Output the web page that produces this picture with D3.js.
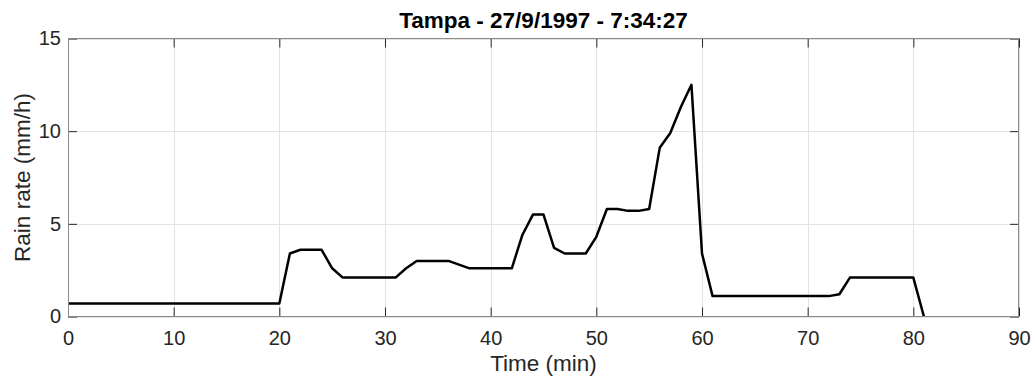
<!DOCTYPE html>
<html>
<head>
<meta charset="utf-8">
<script src="https://cdn.jsdelivr.net/npm/d3@7"></script>
<style>
  html, body { margin: 0; padding: 0; background: #fff; }
  svg { display: block; font-family: "Liberation Sans", Arial, Helvetica, sans-serif; }
</style>
</head>
<body>
<svg id="chart" width="1034" height="376"></svg>
<script>
// Rain gauge trace: breakpoints of the rain rate (mm/h) against elapsed time (min)
const timeMin = [0, 20, 21, 22, 24, 25, 26, 31, 32, 33, 36, 38, 42, 43, 44, 45, 46, 47, 49, 50, 51, 52, 53, 54, 55, 56, 57, 58, 59, 60, 61, 72, 73, 74, 80, 81];
const rainRate = [0.7, 0.7, 3.4, 3.6, 3.6, 2.6, 2.1, 2.1, 2.6, 3.0, 3.0, 2.6, 2.6, 4.4, 5.5, 5.5, 3.7, 3.4, 3.4, 4.3, 5.8, 5.8, 5.7, 5.7, 5.8, 9.1, 9.9, 11.3, 12.5, 3.4, 1.1, 1.1, 1.2, 2.1, 2.1, 0];

const xTicks = [0, 10, 20, 30, 40, 50, 60, 70, 80, 90];
const yTicks = [0, 5, 10, 15];

const titleText = "Tampa - 27/9/1997 - 7:34:27";
const xLabel = "Time (min)";
const yLabel = "Rain rate (mm/h)";

const svg = d3.select("#chart");
const plotL = 68, plotR = 1019, plotT = 38.5, plotB = 316.5;

const x = d3.scaleLinear().domain([0, 90]).range([plotL, plotR]);
const y = d3.scaleLinear().domain([0, 15]).range([plotB, plotT]);

// grid
const grid = svg.append("g").attr("stroke", "#e3e3e3").attr("stroke-width", 1);
xTicks.forEach(t => {
  const px = Math.round(x(t)) + 0.5;
  grid.append("line").attr("x1", px).attr("x2", px).attr("y1", plotT).attr("y2", plotB);
});
yTicks.forEach(t => {
  const py = Math.round(y(t)) + 0.5;
  grid.append("line").attr("x1", plotL).attr("x2", plotR).attr("y1", py).attr("y2", py);
});

// axes with inward ticks (bottom/left labelled, top/right mirrored)
const tickLen = 9;
const fmt = d3.format("d");
const axB = svg.append("g").attr("transform", `translate(0,${plotB})`)
  .call(d3.axisBottom(x).tickValues(xTicks).tickFormat(fmt).tickSizeInner(-tickLen).tickSizeOuter(0).tickPadding(14));
const axT = svg.append("g").attr("transform", `translate(0,${plotT})`)
  .call(d3.axisTop(x).tickValues(xTicks).tickFormat("").tickSizeInner(-tickLen).tickSizeOuter(0));
const axL = svg.append("g").attr("transform", `translate(${plotL},0)`)
  .call(d3.axisLeft(y).tickValues(yTicks).tickFormat(fmt).tickSizeInner(-tickLen).tickSizeOuter(0).tickPadding(7));
const axR = svg.append("g").attr("transform", `translate(${plotR},0)`)
  .call(d3.axisRight(y).tickValues(yTicks).tickFormat("").tickSizeInner(-tickLen).tickSizeOuter(0));

[axB, axT, axL, axR].forEach(g => {
  g.select(".domain").remove();
  g.selectAll(".tick line").attr("stroke", "#262626");
  g.selectAll(".tick text").attr("fill", "#262626").style("font-size", "20px");
});

// data line
const line = d3.line().x((d, i) => x(timeMin[i])).y(d => y(d));
svg.append("path")
  .datum(rainRate)
  .attr("fill", "none")
  .attr("stroke", "#000")
  .attr("stroke-width", 2.5)
  .attr("stroke-linejoin", "round")
  .attr("d", line);

// frame
svg.append("rect")
  .attr("x", plotL + 0.5).attr("y", plotT)
  .attr("width", plotR - plotL - 1).attr("height", plotB - plotT)
  .attr("fill", "none").attr("stroke", "#8a8a8a").attr("stroke-width", 1);

// labels
svg.append("text")
  .attr("x", (plotL + plotR) / 2).attr("y", 28)
  .attr("text-anchor", "middle")
  .style("font-size", "22.5px").style("font-weight", "bold")
  .attr("fill", "#000")
  .text(titleText);

svg.append("text")
  .attr("x", (plotL + plotR) / 2).attr("y", 371)
  .attr("text-anchor", "middle")
  .style("font-size", "22.5px")
  .attr("fill", "#262626")
  .text(xLabel);

svg.append("text")
  .attr("transform", `translate(30,${(plotT + plotB) / 2}) rotate(-90)`)
  .attr("text-anchor", "middle")
  .style("font-size", "22.5px")
  .attr("fill", "#262626")
  .text(yLabel);
</script>
</body>
</html>
